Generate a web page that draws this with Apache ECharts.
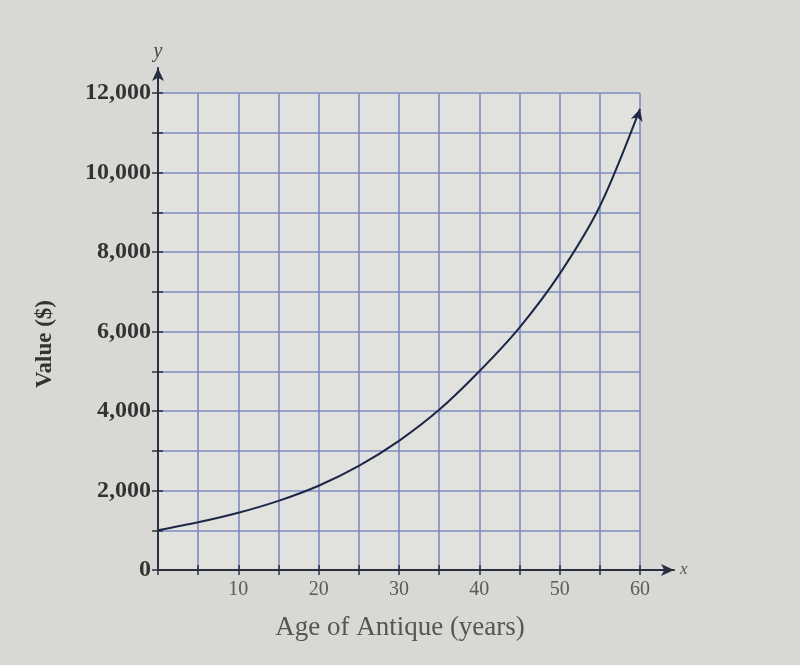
<!DOCTYPE html>
<html><head><meta charset="utf-8">
<script src="https://cdn.jsdelivr.net/npm/echarts@6/dist/echarts.min.js"></script>
<style>html,body{margin:0;padding:0;background:#d8d8d4}#c{width:800px;height:665px}</style>
</head><body><div id="c"></div>
<script>
// Age of antique (years)
const ages = [0, 5, 10, 15, 20, 25, 30, 35, 40, 45, 50, 55, 60];
// Value ($)
const values = [1000, 1200, 1440, 1740, 2120, 2620, 3250, 4030, 5000, 6100, 7450, 9150, 11600];
const yTickLabels = ['0', '2,000', '4,000', '6,000', '8,000', '10,000', '12,000'];

const serif = 'Liberation Serif';
const data = ages.map((a, i) => {
  const p = [a, values[i]];
  if (i === ages.length - 1) {
    return { value: p, symbol: 'arrow', symbolSize: [9, 12], symbolRotate: -16, itemStyle: { color: '#1c2748' } };
  }
  return p;
});

const chart = echarts.init(document.getElementById('c'));
chart.setOption({
  backgroundColor: '#d8d8d4',
  animation: false,
  grid: [
    { left: 158, top: 93, width: 482, height: 477, show: true, backgroundColor: '#e1e1de', borderWidth: 0 },
    { left: 158, top: 68, right: 126, height: 502, show: false }
  ],
  xAxis: [
    {
      gridIndex: 0, type: 'value', min: 0, max: 60, interval: 5,
      axisLine: { show: false },
      axisTick: { show: true, length: 5, lineStyle: { color: '#2a2f40', width: 1.5 } },
      axisLabel: {
        color: '#5a5a5a', fontFamily: serif, fontSize: 20, margin: 10,
        formatter: v => (v % 10 === 0 && v !== 0) ? String(v) : ''
      },
      splitLine: { show: true, lineStyle: { color: '#7e8cc0', width: 1.6 } }
    },
    {
      gridIndex: 0, type: 'value', min: 0, max: 60, interval: 5, position: 'bottom',
      axisLine: { show: false },
      axisTick: { show: true, inside: true, length: 5, lineStyle: { color: '#2a2f40', width: 1.5 } },
      axisLabel: { show: false }, splitLine: { show: false }
    },
    {
      gridIndex: 1, type: 'value', min: 0, max: 1,
      axisLine: { show: true, symbol: ['none', 'arrow'], symbolSize: [9, 13], lineStyle: { color: '#2a2f40', width: 2 } },
      axisTick: { show: false }, axisLabel: { show: false }, splitLine: { show: false },
      name: 'x', nameLocation: 'end', nameGap: 6,
      nameTextStyle: { color: '#555', fontFamily: serif, fontSize: 17, fontStyle: 'italic' }
    }
  ],
  yAxis: [
    {
      gridIndex: 0, type: 'value', min: 0, max: 12000, interval: 1000,
      axisLine: { show: false },
      axisTick: { show: true, length: 6, lineStyle: { color: '#2a2f40', width: 1.5 } },
      axisLabel: {
        color: '#333', fontFamily: serif, fontSize: 24, fontWeight: 'bold', margin: 7,
        formatter: v => (v % 2000 === 0) ? yTickLabels[v / 2000] : ''
      },
      splitLine: { show: true, lineStyle: { color: '#7e8cc0', width: 1.6 } }
    },
    {
      gridIndex: 0, type: 'value', min: 0, max: 12000, interval: 1000, position: 'left',
      axisLine: { show: false },
      axisTick: { show: true, inside: true, length: 5, lineStyle: { color: '#2a2f40', width: 1.5 } },
      axisLabel: { show: false }, splitLine: { show: false }
    },
    {
      gridIndex: 1, type: 'value', min: 0, max: 1,
      axisLine: { show: true, symbol: ['none', 'arrow'], symbolSize: [9, 13], lineStyle: { color: '#2a2f40', width: 2 } },
      axisTick: { show: false }, axisLabel: { show: false }, splitLine: { show: false },
      name: 'y', nameLocation: 'end', nameGap: 6,
      nameTextStyle: { color: '#444', fontFamily: serif, fontSize: 20, fontStyle: 'italic', align: 'center' }
    }
  ],
  graphic: [
    { type: 'text', left: 'center', top: 614, style: { text: 'Age of Antique (years)', fill: '#555', font: '27px "Liberation Serif"' } },
    { type: 'text', x: 34, y: 388, rotation: Math.PI / 2, style: { text: 'Value ($)', fill: '#333', font: 'bold 23px "Liberation Serif"' } }
  ],
  series: [{
    type: 'line', xAxisIndex: 0, yAxisIndex: 0, smooth: 0.3, clip: false,
    showSymbol: true, symbol: 'none',
    lineStyle: { color: '#1c2748', width: 2 },
    data: data
  }]
});
</script></body></html>
